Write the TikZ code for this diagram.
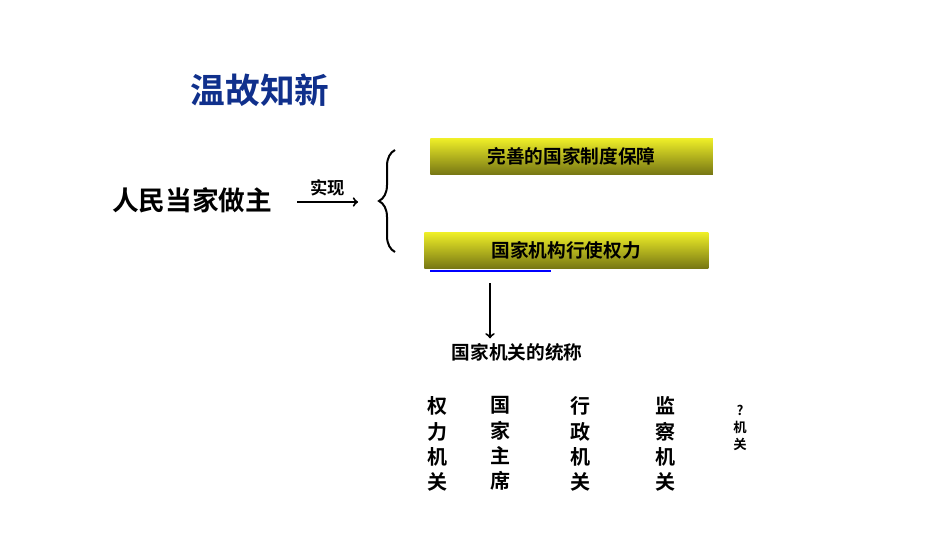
\documentclass[tikz,border=0pt]{standalone}
\usepackage{fontspec}
\setmainfont{Noto Sans CJK SC}[BoldFont={Noto Sans CJK SC Bold}]
\usetikzlibrary{positioning,decorations.pathreplacing}
\begin{document}
\begin{tikzpicture}[x=0.75pt,y=-0.75pt,font=\bfseries]
\definecolor{rev_blue}{RGB}{16,48,140}
\definecolor{rev_top}{RGB}{240,240,40}
\definecolor{rev_bot}{RGB}{120,120,20}
\tikzset{goalbox/.style={shape=rectangle,top color=rev_top,bottom color=rev_bot,minimum height=27pt,anchor=west,inner sep=5pt,font=\bfseries\fontsize{14}{16}\selectfont},
         organ/.style={align=center,font=\bfseries\fontsize{15}{19}\selectfont,anchor=north}}
\useasboundingbox (0,0) rectangle (950,535);
\node[text=rev_blue,font=\bfseries\fontsize{26}{30}\selectfont] (title) at (260,90) {温故知新};
\node[font=\bfseries\fontsize{20}{24}\selectfont] (people) at (192,200) {人民当家做主};
\coordinate (arrs) at (297,202);
\coordinate (arre) at (358,202);
\draw[->,line width=1.5pt] (arrs) to node[above,font=\bfseries\fontsize{13}{15}\selectfont] {实现} (arre);
\draw[decorate,decoration={brace,amplitude=12pt},line width=1.5pt] (395,252) to (395,150);
\node[goalbox,minimum width=212pt] (sys) at (430,156) {完善的国家制度保障};
\node[goalbox,minimum width=213pt] (power) at (424,250) {国家机构行使权力};
\draw[blue,line width=2.2pt] (430,271) to (551,271);
\node[font=\bfseries\fontsize{14}{16}\selectfont] (organs) at (517,352) {国家机关的统称};
\draw[->,line width=1.5pt] (490,283) to (organs.north -| 490,283);
\node[organ] (legis) at (437,392) {权\\力\\机\\关};
\node[organ] (pres) at (500,392) {国\\家\\主\\席};
\node[organ] (admin) at (580,392) {行\\政\\机\\关};
\node[organ] (super) at (665,392) {监\\察\\机\\关};
\node[organ,font=\bfseries\fontsize{10}{13}\selectfont] (other) at (740,400) {?\\机\\关};
\end{tikzpicture}
\end{document}
